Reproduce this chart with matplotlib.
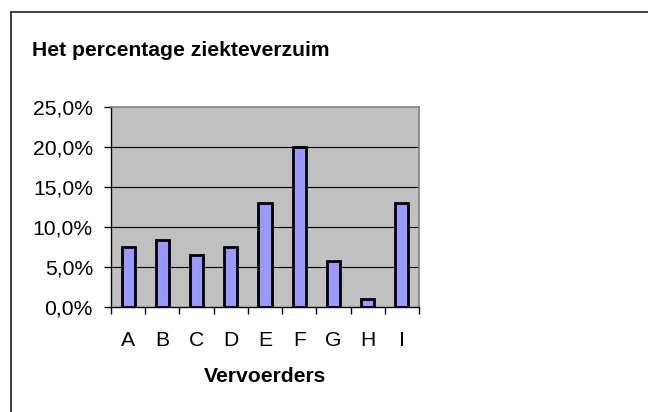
import matplotlib
matplotlib.use("Agg")
import matplotlib.pyplot as plt
from matplotlib.lines import Line2D
from matplotlib.ticker import FuncFormatter, FixedLocator

plt.rcParams['font.family'] = ['Liberation Sans', 'DejaVu Sans']

categories = ["A", "B", "C", "D", "E", "F", "G", "H", "I"]
values = [7.5, 8.4, 6.5, 7.5, 13.0, 20.0, 5.7, 1.0, 13.0]
yticks = [0, 5, 10, 15, 20, 25]
title = "Het percentage ziekteverzuim"
xlabel = "Vervoerders"

W, H = 648, 412
fig = plt.figure(figsize=(W / 100, H / 100), dpi=100)
fig.patch.set_facecolor("white")

left, right, top, bottom = 111, 419, 107, 307
ax = fig.add_axes([left / W, 1 - bottom / H, (right - left) / W, (bottom - top) / H])
ax.set_facecolor("#C0C0C0")

x = list(range(len(categories)))
ax.bar(x, values, width=0.38, color="#9999FF", edgecolor="black", linewidth=2.0, zorder=3)

ax.set_xlim(-0.5, len(categories) - 0.5)
ax.set_ylim(0, 25)

# y axis
ax.set_yticks(yticks)
ax.yaxis.set_major_formatter(FuncFormatter(lambda v, p: f"{v:.1f}%".replace(".", ",")))
ax.tick_params(axis="y", direction="out", length=5, width=1, pad=8, labelsize=15.2, color="black")
for yv in yticks[1:-1]:
    ax.axhline(yv, color="black", linewidth=0.8, zorder=1)

# x axis: ticks at category boundaries, labels at centres
ax.xaxis.set_major_locator(FixedLocator([i - 0.5 for i in range(len(categories) + 1)]))
ax.xaxis.set_minor_locator(FixedLocator(x))
ax.set_xticklabels([])
ax.set_xticklabels(categories, minor=True)
ax.tick_params(axis="x", which="major", direction="out", length=5, width=1, color="black")
ax.tick_params(axis="x", which="minor", length=0, pad=17, labelsize=15.2)

for s in ["left", "bottom"]:
    ax.spines[s].set_color("black")
    ax.spines[s].set_linewidth(1.0)
for s in ["top", "right"]:
    ax.spines[s].set_color("#808080")
    ax.spines[s].set_linewidth(1.2)

fig.text(32 / W, 1 - 50 / H, title, fontsize=15.2, fontweight="bold", ha="left", va="center")
fig.text(265 / W, 1 - 376 / H, xlabel, fontsize=15.2, fontweight="bold", ha="center", va="center")

# chart frame (only top and left edges visible)
fig.add_artist(Line2D([10.5 / W, 1], [1 - 11.7 / H, 1 - 11.7 / H], transform=fig.transFigure,
                      color="#333333", linewidth=1.3))
fig.add_artist(Line2D([10.5 / W, 10.5 / W], [0, 1 - 11.7 / H], transform=fig.transFigure,
                      color="#333333", linewidth=1.3))

fig.savefig("out.png", dpi=100)
